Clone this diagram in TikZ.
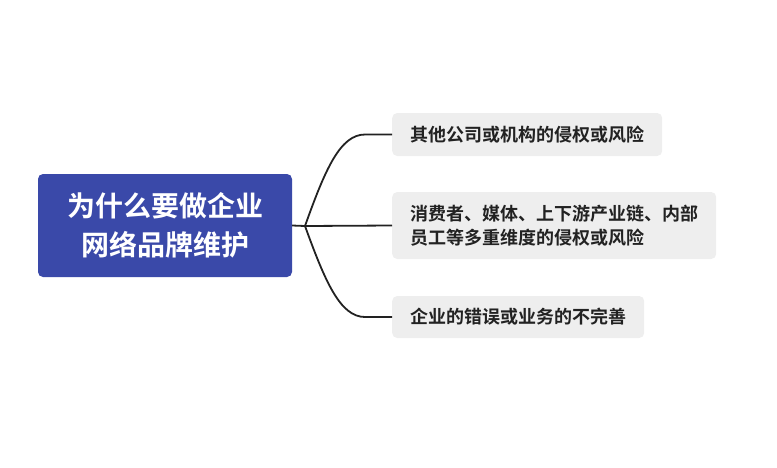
\documentclass[tikz,border=0pt]{standalone}
\usepackage{fontspec}
\setmainfont{Noto Sans CJK SC}[BoldFont={Noto Sans CJK SC Bold}]
\definecolor{rootblue}{RGB}{58,73,169}
\definecolor{leafgray}{RGB}{238,238,238}
\definecolor{inkdark}{RGB}{34,34,34}
\begin{document}
\begin{tikzpicture}[x=1pt,y=-1pt,
  rootbox/.style={fill=rootblue,rounded corners=5,text=white,font=\fontsize{28}{39}\selectfont\bfseries,align=center,minimum width=254,minimum height=103,inner sep=0},
  leafbox/.style={fill=leafgray,rounded corners=5,text=inkdark,font=\fontsize{18}{24}\selectfont\bfseries,align=left,anchor=west,inner xsep=18,inner ysep=0},
  link/.style={draw=inkdark,line width=1.8}]
\useasboundingbox (0,0) rectangle (777,467);
\node[rootbox] (root) at (165,225.5) {为什么要做企业\\网络品牌维护};
\node[leafbox,minimum height=43] (b1) at (392,134.5) {其他公司或机构的侵权或风险};
\node[leafbox,minimum height=67] (b2) at (392,225.5) {消费者、媒体、上下游产业链、内部\\员工等多重维度的侵权或风险};
\node[leafbox,minimum height=42] (b3) at (392,317) {企业的错误或业务的不完善};
\coordinate (j) at (305,226);
\coordinate (k1) at (365,134.5);
\coordinate (k3) at (365,317);
\draw[link] (root.east) -- (j);
\draw[link] (j) .. controls (325,170) and (340,134.5) .. (k1) -- (b1.west);
\draw[link] (j) -- (b2.west);
\draw[link] (j) .. controls (325,281) and (340,317) .. (k3) -- (b3.west);
\end{tikzpicture}
\end{document}
